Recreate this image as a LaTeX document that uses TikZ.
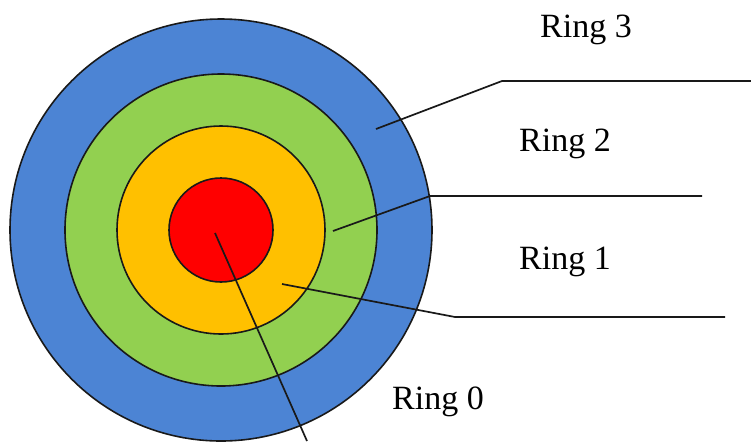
\documentclass[tikz,border=0pt]{standalone}
\usepackage{fontspec}
\setmainfont{Liberation Serif}
\usetikzlibrary{positioning}
\definecolor{ringblue}{HTML}{4C84D4}
\definecolor{ringgreen}{HTML}{92D050}
\definecolor{ringorange}{HTML}{FFC000}
\definecolor{ringred}{HTML}{FF0000}

\begin{document}
\begin{tikzpicture}[
		x=0.5pt, y=-0.5pt,
		font=\fontsize{17}{20}\selectfont,
		ring/.style={circle, draw=black!90, line width=0.8pt, inner sep=0pt},
		lead/.style={draw=black!90, line width=0.85pt},
		lbl/.style={inner sep=0pt},
		]
		\useasboundingbox (0,0) rectangle (751,441);

		% Ringe (von aussen nach innen)
		\node[ring, fill=ringblue,   minimum size=211pt] (r3) at (221,230) {};
		\node[ring, fill=ringgreen,  minimum size=156pt] (r2) at (221,230) {};
		\node[ring, fill=ringorange, minimum size=104pt] (r1) at (221,230) {};
		\node[ring, fill=ringred,    minimum size=52pt]  (r0) at (221,230) {};

		% Beschriftungen
		\node[lbl] (l3) at (586,30)  {Ring 3};
		\node[lbl] (l2) at (565,144) {Ring 2};
		\node[lbl] (l1) at (565,262) {Ring 1};
		\node[lbl] (l0) at (438,402) {Ring 0};

		% Punkte der Hinweislinien
		\coordinate (p3) at (376,129);
		\coordinate (b3) at (502,81);
		\coordinate (e3) at (751,81);
		\coordinate (p2) at (333,231);
		\coordinate (b2) at (430,196);
		\coordinate (e2) at (702,196);
		\coordinate (p1) at (282,284);
		\coordinate (b1) at (455,317);
		\coordinate (e1) at (725,317);
		\coordinate (p0) at (215,233);
		\coordinate (e0) at (307,441);

		% Hinweislinien
		\draw[lead] (p3) -- (b3) -- (e3);
		\draw[lead] (p2) -- (b2) -- (e2);
		\draw[lead] (p1) -- (b1) -- (e1);
		\draw[lead] (p0) -- (e0);

	\end{tikzpicture}
\end{document}
